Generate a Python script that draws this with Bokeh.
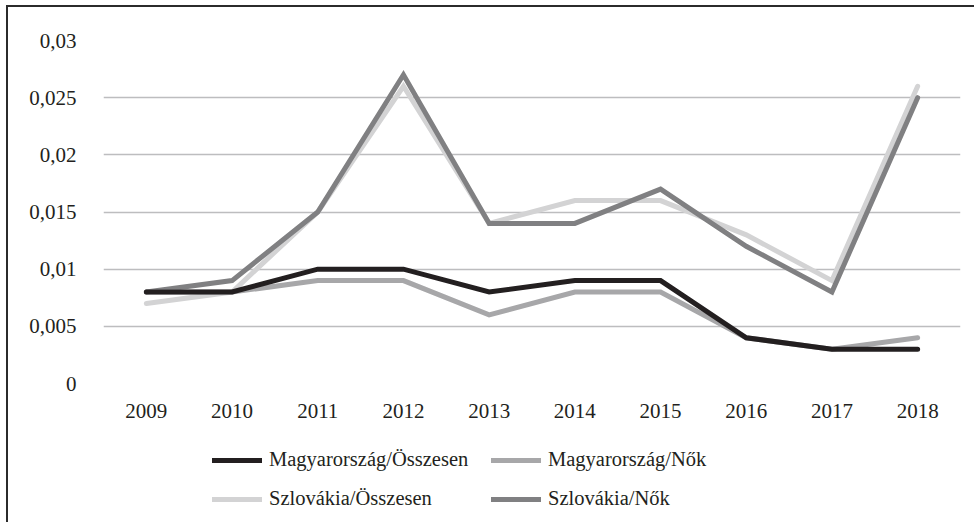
from bokeh.plotting import figure
from bokeh.models import FixedTicker, Legend, LegendItem, Range1d
from bokeh.layouts import column
from bokeh.embed import file_html
from bokeh.resources import INLINE

years = ["2009", "2010", "2011", "2012", "2013", "2014", "2015", "2016", "2017", "2018"]
hu_total = [0.008, 0.008, 0.010, 0.010, 0.008, 0.009, 0.009, 0.004, 0.003, 0.003]
hu_women = [0.008, 0.008, 0.009, 0.009, 0.006, 0.008, 0.008, 0.004, 0.003, 0.004]
sk_total = [0.007, 0.008, 0.015, 0.026, 0.014, 0.016, 0.016, 0.013, 0.009, 0.026]
sk_women = [0.008, 0.009, 0.015, 0.027, 0.014, 0.014, 0.017, 0.012, 0.008, 0.025]
y_ticks = [0, 0.005, 0.01, 0.015, 0.02, 0.025, 0.03]
y_labels = ["0", "0,005", "0,01", "0,015", "0,02", "0,025", "0,03"]
series_names = ["Magyarország/Összesen", "Magyarország/Nők", "Szlovákia/Összesen", "Szlovákia/Nők"]

FONT = "Liberation Serif"
TXT = "#231f20"
colors = ["#231f20", "#a7a7a9", "#d3d3d4", "#808082"]
series = [hu_total, hu_women, sk_total, sk_women]

W = 966
p = figure(x_range=years, y_range=(0, 0.03), width=W, height=420,
           output_backend="svg", toolbar_location=None,
           min_border_left=95, min_border_right=14, min_border_top=33, min_border_bottom=44)
p.outline_line_color = None

p.yaxis.ticker = FixedTicker(ticks=y_ticks)
p.yaxis.major_label_overrides = {t: l for t, l in zip(y_ticks, y_labels)}
for ax in (p.xaxis, p.yaxis):
    ax.axis_line_color = None
    ax.major_tick_line_color = None
    ax.minor_tick_line_color = None
    ax.major_label_text_font = FONT
    ax.major_label_text_font_size = "21px"
    ax.major_label_text_color = TXT
p.yaxis.major_label_standoff = 21
p.xaxis.major_label_standoff = 14
p.xgrid.grid_line_color = None
p.ygrid.grid_line_color = "#bdbdbf"
p.ygrid.grid_line_width = 1.3

for idx in [2, 3, 1, 0]:
    p.line(years, series[idx], line_color=colors[idx], line_width=5,
           line_cap="round", line_join="miter")

# legend panel (legend-only renderers carry no visible data)
nan = float("nan")
lg = figure(width=W, height=95, x_range=Range1d(0, 1), y_range=Range1d(0, 1),
            x_axis_type=None, y_axis_type=None, output_backend="svg",
            toolbar_location=None, min_border=0)
lg.outline_line_color = None
lg.grid.visible = False
lr = [lg.line(x=[nan, nan], y=[nan, nan], line_color=colors[i], line_width=5, line_cap="round")
      for i in range(4)]

common = dict(orientation="vertical", label_text_font=FONT, label_text_font_size="20.5px",
              label_text_color=TXT, glyph_width=50, glyph_height=20, label_standoff=7,
              spacing=16, background_fill_alpha=0, border_line_color=None,
              margin=0, padding=0)
leg1 = Legend(items=[LegendItem(label=series_names[0], renderers=[lr[0]]),
                     LegendItem(label=series_names[2], renderers=[lr[2]])],
              location=(109, 12), **common)
leg2 = Legend(items=[LegendItem(label=series_names[1], renderers=[lr[1]]),
                     LegendItem(label=series_names[3], renderers=[lr[3]])],
              location=(388, 12), **common)
lg.add_layout(leg1)
lg.add_layout(leg2)

layout = column(p, lg, spacing=0)
layout.styles = {"border-left": "2px solid #2b2b2b", "border-top": "2px solid #2b2b2b",
                 "margin-left": "6px", "margin-top": "5px"}

open("out.html", "w").write(file_html(layout, INLINE))
